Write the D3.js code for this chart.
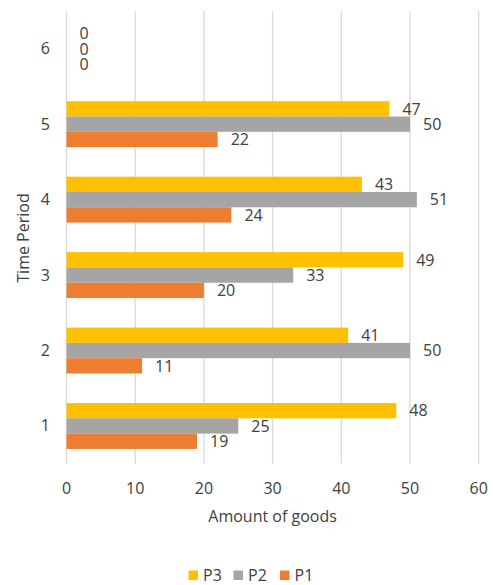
<!DOCTYPE html>
<html>
<head>
<meta charset="utf-8">
<script src="https://cdn.jsdelivr.net/npm/d3@7"></script>
<style>
  html, body { margin: 0; padding: 0; background: #fff; }
  svg text { font-family: "Open Sans", Lato, sans-serif; fill: #404040; }
</style>
</head>
<body>
<svg id="chart" width="493" height="585"></svg>
<script>
// Time periods (bottom to top) and amounts per product
const periods = ["1", "2", "3", "4", "5", "6"];
const p1 = [19, 11, 20, 24, 22, 0];
const p2 = [25, 50, 33, 51, 50, 0];
const p3 = [48, 41, 49, 43, 47, 0];
const xTicks = [0, 10, 20, 30, 40, 50, 60];

// Series listed top-to-bottom inside each group
const series = [
  { name: "P3", values: p3, color: "#FFC000" },
  { name: "P2", values: p2, color: "#A5A5A5" },
  { name: "P1", values: p1, color: "#ED7D31" }
];
const legendOrder = ["P3", "P2", "P1"];

const svg = d3.select("#chart");
const plot = { left: 66.5, right: 478.7, top: 11, bottom: 463.7 };
const fs = 16;

const x = d3.scaleLinear().domain([0, 60]).range([plot.left, plot.right]);
const y = d3.scaleBand().domain(periods.slice().reverse()).range([plot.top, plot.bottom]).padding(0);
const barH = 15.3;
const inner = d3.scaleBand().domain(series.map(s => s.name))
  .range([0, barH * 3]).padding(0);

// vertical gridlines
svg.append("g")
  .selectAll("line").data(xTicks).join("line")
  .attr("x1", d => x(d)).attr("x2", d => x(d))
  .attr("y1", plot.top).attr("y2", plot.bottom)
  .attr("stroke", "#D9D9D9").attr("stroke-width", 1.3);

// x tick labels
svg.append("g")
  .selectAll("text").data(xTicks).join("text")
  .attr("x", d => x(d)).attr("y", 494)
  .attr("text-anchor", "middle").attr("font-size", fs)
  .text(d => d);

// y tick labels
svg.append("g")
  .selectAll("text").data(periods).join("text")
  .attr("x", 50).attr("y", d => y(d) + y.bandwidth() / 2 + 5.5)
  .attr("text-anchor", "end").attr("font-size", fs)
  .text(d => d);

// bars and value labels
const groupOffset = (y.bandwidth() - barH * 3) / 2;
series.forEach(s => {
  const g = svg.append("g");
  const rows = periods.map((p, i) => ({ p, v: s.values[i] }));
  g.selectAll("rect").data(rows).join("rect")
    .attr("x", x(0))
    .attr("y", d => y(d.p) + groupOffset + inner(s.name))
    .attr("width", d => x(d.v) - x(0))
    .attr("height", inner.bandwidth())
    .attr("fill", s.color);
  g.selectAll("text").data(rows).join("text")
    .attr("x", d => x(d.v) + 13)
    .attr("y", d => y(d.p) + groupOffset + inner(s.name) + inner.bandwidth() / 2 + 5.8)
    .attr("font-size", fs)
    .text(d => d.v);
});

// axis titles
svg.append("text")
  .attr("x", (plot.left + plot.right) / 2).attr("y", 522)
  .attr("text-anchor", "middle").attr("font-size", fs)
  .text("Amount of goods");

svg.append("text")
  .attr("transform", `translate(28.5,238) rotate(-90)`)
  .attr("text-anchor", "middle").attr("font-size", fs)
  .text("Time Period");

// legend
const legendX = [188.5, 233.5, 280];
const legend = svg.append("g");
legendOrder.forEach((name, i) => {
  const s = series.find(d => d.name === name);
  legend.append("rect")
    .attr("x", legendX[i]).attr("y", 570.5)
    .attr("width", 9.5).attr("height", 9.5)
    .attr("fill", s.color);
  legend.append("text")
    .attr("x", legendX[i] + 14.5).attr("y", 581)
    .attr("font-size", fs)
    .text(name);
});
</script>
</body>
</html>
